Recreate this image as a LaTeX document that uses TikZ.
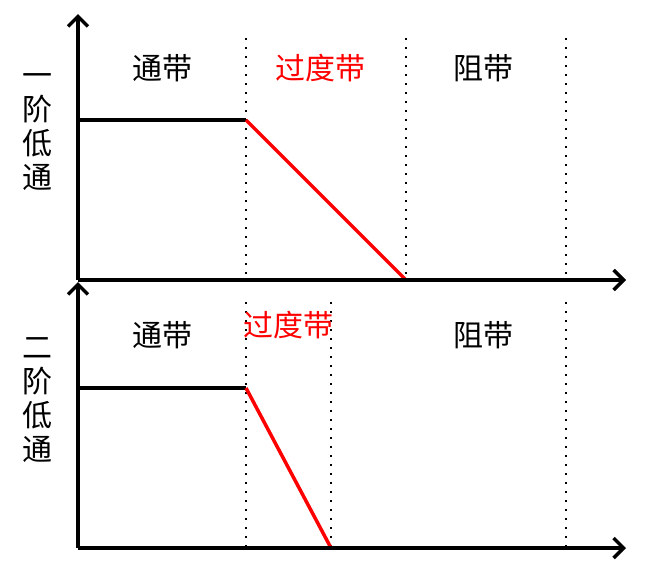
\documentclass[tikz,border=0pt]{standalone}
\usepackage{fontspec}
\newfontfamily\cjk{Noto Sans CJK SC}
\usetikzlibrary{arrows.meta}
\begin{document}
\begin{tikzpicture}[x=1pt,y=-1pt,
  axis/.style={line width=3.5pt,-{Straight Barb[length=10pt,width=20pt,line width=3.5pt]}},
  dots/.style={line width=2pt,dash pattern=on 2pt off 7pt},
  pass/.style={line width=3.5pt},
  trans/.style={line width=3.5pt,red},
  lbl/.style={font=\cjk\fontsize{30}{32}\selectfont},
  side/.style={font=\cjk\fontsize{30}{32}\selectfont,align=center}]
\useasboundingbox (0,0) rectangle (650,566);
% top
\coordinate (o1) at (78,280);
\coordinate (y1) at (78,14);
\coordinate (x1) at (626,280);
\foreach \x in {246,406,566} \draw[dots] (\x,38) -- (\x,280);
\coordinate (a1) at (78,120); \coordinate (b1) at (246,120); \coordinate (c1) at (406,280);
\draw[pass] (a1) -- (b1);
\draw[trans] (b1) -- (c1);
\draw[axis] (o1) -- (y1);
\draw[axis] (o1) -- (x1);
\node[lbl] (t1) at (162,68) {通带};
\node[lbl,red] (t2) at (320,68) {过度带};
\node[lbl] (t3) at (483,68) {阻带};
\node[side] (s1) at (37,132) {一\\[2pt]阶\\[2pt]低\\[2pt]通};
% bottom
\coordinate (o2) at (78,548);
\coordinate (y2) at (78,282);
\coordinate (x2) at (626,548);
\foreach \x in {246,331,566} \draw[dots] (\x,302) -- (\x,548);
\coordinate (a2) at (78,388); \coordinate (b2) at (246,388); \coordinate (c2) at (331,548);
\draw[pass] (a2) -- (b2);
\draw[trans] (b2) -- (c2);
\draw[axis] (o2) -- (y2);
\draw[axis] (o2) -- (x2);
\node[lbl] (u1) at (162,335) {通带};
\node[lbl,red] (u2) at (288,325) {过度带};
\node[lbl] (u3) at (483,335) {阻带};
\node[side] (s2) at (37,400) {二\\[2pt]阶\\[2pt]低\\[2pt]通};
\end{tikzpicture}
\end{document}
